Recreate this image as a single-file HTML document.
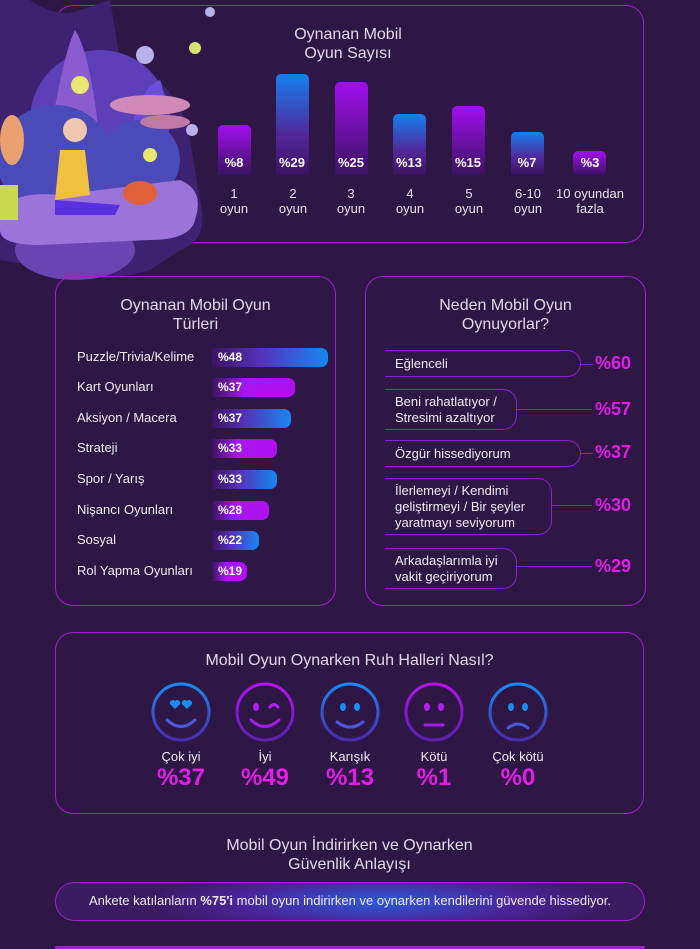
<!DOCTYPE html>
<html><head><meta charset="utf-8"><style>
*{margin:0;padding:0;box-sizing:border-box}
body{width:700px;height:949px;background:#2e1745;font-family:"Liberation Sans",sans-serif;color:#eee;position:relative;overflow:hidden}
.box{position:absolute;border:1.5px solid #a21fd0;border-radius:18px}
.t{position:absolute;text-align:center;color:#e0d8ea;font-size:16px;line-height:19px}
.bar{position:absolute;width:33px;border-radius:5px 5px 0 0}
.bl{background:linear-gradient(#a20ef0,#3a1360)}
.bb{background:linear-gradient(#1580f0,#52279a 60%,#3a1360)}
.pv{position:absolute;width:40px;text-align:center;font-weight:bold;font-size:13px;color:#fff}
.xl{position:absolute;width:70px;text-align:center;font-size:13px;line-height:15px;color:#e8e0f0}
.rl{position:absolute;left:77px;font-size:13px;color:#f0eaf5}
.hb{position:absolute;left:212px;height:19px;border-radius:0 7px 7px 0;font-size:12px;font-weight:bold;color:#fff;padding-left:6px;line-height:19px}
.hm{background:linear-gradient(90deg,#3a1360,#a616f0 40%,#b010f0)}
.hbl{background:linear-gradient(90deg,#3a1360,#5530b8 40%,#1688f0)}
.pill{position:absolute;left:385px;border:1.2px solid #8a22c8;border-left:none;border-radius:0 14px 14px 0;font-size:13px;line-height:16px;padding:4px 10px 3px 10px;color:#f0eaf5}
.ln{position:absolute;height:1px;background:#8a22c8}
.pp{position:absolute;font-size:18px;font-weight:bold;color:#e11ee6}
.fl{position:absolute;width:80px;text-align:center;font-size:13px;color:#f0eaf5}
.fp{position:absolute;width:80px;text-align:center;font-size:24px;font-weight:bold;color:#e11ee6}
</style></head><body>
<div class="box" style="left:55px;top:5px;width:589px;height:238px"></div>
<!-- illustration -->
<svg style="position:absolute;left:0;top:0" width="215" height="285">
<path d="M0 0 L30 0 Q60 20 80 10 L110 0 L120 60 Q180 80 190 140 L200 200 Q210 240 180 250 L150 270 Q100 285 60 270 L0 260Z" fill="#3e2170"/>
<ellipse cx="75" cy="250" rx="60" ry="30" fill="#6a44b0"/>
<ellipse cx="100" cy="120" rx="70" ry="70" fill="#5d3fb8"/>
<path d="M40 200 Q60 60 75 30 Q95 60 105 200Z" fill="#8a5cd0"/>
<path d="M120 200 Q130 90 160 80 Q170 100 150 200Z" fill="#6a50d8"/>
<ellipse cx="55" cy="160" rx="58" ry="55" fill="#4a4ab8"/>
<ellipse cx="140" cy="160" rx="40" ry="40" fill="#4a4ab8"/>
<ellipse cx="150" cy="105" rx="40" ry="10" fill="#d08ab8"/>
<ellipse cx="165" cy="122" rx="25" ry="7" fill="#c07aa8"/>
<path d="M0 215 Q10 190 60 195 L180 180 Q205 190 195 220 Q190 240 150 240 L40 245 Q0 245 0 230Z" fill="#9a74d8"/>
<rect x="0" y="185" width="18" height="35" fill="#c8d850"/>
<ellipse cx="12" cy="140" rx="12" ry="25" fill="#e8a070"/>
<path d="M60 150 L85 150 L90 195 L55 200Z" fill="#f0c040"/>
<circle cx="75" cy="130" r="12" fill="#f0c8b0"/>
<path d="M55 200 L120 205 L115 215 L55 215Z" fill="#5a30e0"/>
<ellipse cx="140" cy="193" rx="17" ry="12" fill="#e0603a"/>
<circle cx="145" cy="55" r="9" fill="#b8b0e8"/>
<circle cx="210" cy="12" r="5" fill="#b8b0e8"/>
<circle cx="80" cy="85" r="9" fill="#e8e870"/>
<circle cx="195" cy="48" r="6" fill="#d8e070"/>
<circle cx="150" cy="155" r="7" fill="#e8e870"/>
<circle cx="192" cy="130" r="6" fill="#b8b0e8"/>
</svg>
<div class="t" style="left:248px;top:25px;width:200px">Oynanan Mobil<br>Oyun Sayısı</div>
<div class="bar bl" style="left:218px;top:125px;height:50px"></div>
<div class="bar bb" style="left:276px;top:74px;height:101px"></div>
<div class="bar bl" style="left:335px;top:82px;height:93px"></div>
<div class="bar bb" style="left:393px;top:114px;height:61px"></div>
<div class="bar bl" style="left:452px;top:106px;height:69px"></div>
<div class="bar bb" style="left:511px;top:132px;height:43px"></div>
<div class="bar bl" style="left:573px;top:151px;height:24px;border-radius:5px"></div>
<div class="pv" style="left:214px;top:155px">%8</div>
<div class="pv" style="left:272px;top:155px">%29</div>
<div class="pv" style="left:331px;top:155px">%25</div>
<div class="pv" style="left:389px;top:155px">%13</div>
<div class="pv" style="left:448px;top:155px">%15</div>
<div class="pv" style="left:507px;top:155px">%7</div>
<div class="pv" style="left:570px;top:155px">%3</div>
<div class="xl" style="left:199px;top:186px">1<br>oyun</div>
<div class="xl" style="left:258px;top:186px">2<br>oyun</div>
<div class="xl" style="left:316px;top:186px">3<br>oyun</div>
<div class="xl" style="left:375px;top:186px">4<br>oyun</div>
<div class="xl" style="left:434px;top:186px">5<br>oyun</div>
<div class="xl" style="left:493px;top:186px">6-10<br>oyun</div>
<div class="xl" style="left:550px;top:186px;width:80px">10 oyundan<br>fazla</div>

<div class="box" style="left:55px;top:276px;width:281px;height:330px"></div>
<div class="t" style="left:55px;top:296px;width:281px">Oynanan Mobil Oyun<br>Türleri</div>
<div class="rl" style="top:349px">Puzzle/Trivia/Kelime</div><div class="hb hbl" style="top:348px;width:116px">%48</div>
<div class="rl" style="top:379px">Kart Oyunları</div><div class="hb hm" style="top:378px;width:83px">%37</div>
<div class="rl" style="top:410px">Aksiyon / Macera</div><div class="hb hbl" style="top:409px;width:79px">%37</div>
<div class="rl" style="top:440px">Strateji</div><div class="hb hm" style="top:439px;width:65px">%33</div>
<div class="rl" style="top:471px">Spor / Yarış</div><div class="hb hbl" style="top:470px;width:65px">%33</div>
<div class="rl" style="top:502px">Nişancı Oyunları</div><div class="hb hm" style="top:501px;width:57px">%28</div>
<div class="rl" style="top:532px">Sosyal</div><div class="hb hbl" style="top:531px;width:47px">%22</div>
<div class="rl" style="top:563px">Rol Yapma Oyunları</div><div class="hb hm" style="top:562px;width:35px">%19</div>

<div class="box" style="left:365px;top:276px;width:281px;height:330px"></div>
<div class="t" style="left:365px;top:296px;width:281px">Neden Mobil Oyun<br>Oynuyorlar?</div>
<div class="pill" style="top:350px;width:196px;height:27px;line-height:18px">Eğlenceli</div><div class="ln" style="left:581px;top:364px;width:12px"></div><div class="pp" style="left:595px;top:353px">%60</div>
<div class="pill" style="top:389px;width:132px">Beni rahatlatıyor /<br>Stresimi azaltıyor</div><div class="ln" style="left:517px;top:409px;width:75px"></div><div class="pp" style="left:595px;top:399px">%57</div>
<div class="pill" style="top:440px;width:196px;height:27px;line-height:18px">Özgür hissediyorum</div><div class="ln" style="left:581px;top:453px;width:12px"></div><div class="pp" style="left:595px;top:442px">%37</div>
<div class="pill" style="top:478px;width:167px">İlerlemeyi / Kendimi<br>geliştirmeyi / Bir şeyler<br>yaratmayı seviyorum</div><div class="ln" style="left:552px;top:505px;width:40px"></div><div class="pp" style="left:595px;top:495px">%30</div>
<div class="pill" style="top:548px;width:132px">Arkadaşlarımla iyi<br>vakit geçiriyorum</div><div class="ln" style="left:517px;top:566px;width:75px"></div><div class="pp" style="left:595px;top:556px">%29</div>

<div class="box" style="left:55px;top:632px;width:589px;height:182px"></div>
<div class="t" style="left:55px;top:651px;width:589px">Mobil Oyun Oynarken Ruh Halleri Nasıl?</div>
<svg style="position:absolute;left:0;top:0" width="700" height="949">
<defs>
<linearGradient id="gb" x1="0" y1="0" x2="0" y2="1"><stop offset="0" stop-color="#1a8af5"/><stop offset="1" stop-color="#4a2ab0"/></linearGradient>
<linearGradient id="gm" x1="0" y1="0" x2="0" y2="1"><stop offset="0" stop-color="#b414f0"/><stop offset="1" stop-color="#5a20b0"/></linearGradient>
</defs>
<g fill="none" stroke-width="3" stroke-linecap="round">
<circle cx="181" cy="712" r="28" stroke="url(#gb)"/>
<path d="M167 720 Q181 733 195 720" stroke="#4a5ae0"/>
<circle cx="265" cy="712" r="28" stroke="url(#gm)"/>
<path d="M251 720 Q265 733 279 720" stroke="#a020e8"/>
<path d="M270 707 Q274 702 278 707" stroke="#b020f0"/>
<circle cx="350" cy="712" r="28" stroke="url(#gb)"/>
<path d="M337 722 Q350 732 363 722" stroke="#4a5ae0"/>
<circle cx="434" cy="712" r="28" stroke="url(#gm)"/>
<path d="M425 725 L443 725" stroke="#a020e8"/>
<circle cx="518" cy="712" r="28" stroke="url(#gb)"/>
<path d="M508 728 Q518 720 528 728" stroke="#4a5ae0"/>
</g>
<g fill="#1a8af5">
<path d="M175 709 l-5 -5 a3 3 0 0 1 5 -3 a3 3 0 0 1 5 3z"/>
<path d="M187 709 l-5 -5 a3 3 0 0 1 5 -3 a3 3 0 0 1 5 3z"/>
<ellipse cx="343" cy="707" rx="3" ry="4"/><ellipse cx="357" cy="707" rx="3" ry="4"/>
<ellipse cx="511" cy="707" rx="3" ry="4"/><ellipse cx="525" cy="707" rx="3" ry="4"/>
</g>
<g fill="#b020f0">
<ellipse cx="256" cy="707" rx="3" ry="4"/>
<ellipse cx="427" cy="707" rx="3" ry="4"/><ellipse cx="441" cy="707" rx="3" ry="4"/>
</g>
</svg>
<div class="fl" style="left:141px;top:749px">Çok iyi</div><div class="fp" style="left:141px;top:764px">%37</div>
<div class="fl" style="left:225px;top:749px">İyi</div><div class="fp" style="left:225px;top:764px">%49</div>
<div class="fl" style="left:310px;top:749px">Karışık</div><div class="fp" style="left:310px;top:764px">%13</div>
<div class="fl" style="left:394px;top:749px">Kötü</div><div class="fp" style="left:394px;top:764px">%1</div>
<div class="fl" style="left:478px;top:749px">Çok kötü</div><div class="fp" style="left:478px;top:764px">%0</div>

<div class="t" style="left:55px;top:836px;width:589px">Mobil Oyun İndirirken ve Oynarken<br>Güvenlik Anlayışı</div>
<div style="position:absolute;left:55px;top:882px;width:590px;height:39px;border:1.5px solid #a21fd0;border-radius:20px;background:radial-gradient(ellipse 40% 100% at 55% 50%,#2a5ad8,#4a2498 60%,#3a1a60);font-size:13px;line-height:36px;text-align:center;color:#f0eaf5">Ankete katılanların <b>%75'i</b> mobil oyun indirirken ve oynarken kendilerini güvende hissediyor.</div>
<div style="position:absolute;left:55px;top:946px;width:590px;height:3px;background:#a21fd0;border-radius:2px"></div>
</body></html>
